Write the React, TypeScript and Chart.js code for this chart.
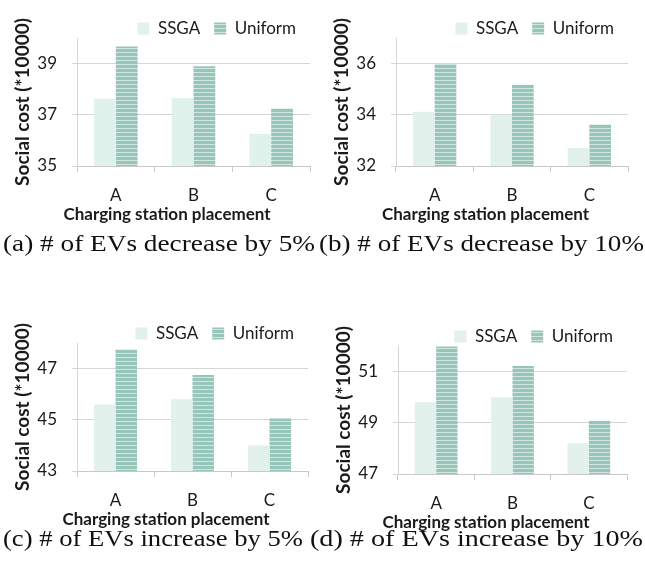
import React, { useEffect, useRef } from 'react';
import { Chart, registerables } from 'chart.js';

Chart.register(...registerables);

// ---------- data ----------
const categories = ['A', 'B', 'C'];
const seriesNames = ['SSGA', 'Uniform'];

const ssgaA = [37.63, 37.65, 36.25];
const uniformA = [39.67, 38.9, 37.25];
const ticksA = [35, 37, 39];
const maxA = 40;

const ssgaB = [34.12, 34.0, 32.7];
const uniformB = [35.98, 35.17, 33.62];
const ticksB = [32, 34, 36];
const maxB = 37;

const ssgaC = [45.6, 45.8, 44.0];
const uniformC = [47.75, 46.75, 45.05];
const ticksC = [43, 45, 47];
const maxC = 48;

const ssgaD = [49.8, 50.0, 48.2];
const uniformD = [51.98, 51.22, 49.08];
const ticksD = [47, 49, 51];
const maxD = 52;

const yTitle = 'Social cost (*10000)';
const xTitle = 'Charging station placement';

const captionA = '(a) # of EVs decrease by 5%';
const captionB = '(b) # of EVs decrease by 10%';
const captionC = '(c) # of EVs increase by 5%';
const captionD = '(d) # of EVs increase by 10%';

// ---------- styling helpers ----------
const CW = 320;
const CH = 225;
const PLOT_TOP = 38;
const PLOT_BOTTOM = 166;
const PAD_LEFT = 24;
const XTITLE_H = 20.4;
const FONT = 'Lato, "Open Sans", sans-serif';

function makeStripePattern(): CanvasPattern | string {
  const c = document.createElement('canvas');
  c.width = 4;
  c.height = 4;
  const ctx = c.getContext('2d');
  if (!ctx) return '#9cc8bd';
  ctx.fillStyle = '#97c5ba';
  ctx.fillRect(0, 0, 4, 4);
  ctx.fillStyle = '#cfe7e0';
  ctx.fillRect(0, 0, 4, 1);
  return ctx.createPattern(c, 'repeat') || '#9cc8bd';
}

function makeDotPattern(): CanvasPattern | string {
  const c = document.createElement('canvas');
  c.width = 4;
  c.height = 4;
  const ctx = c.getContext('2d');
  if (!ctx) return '#e2f2ec';
  ctx.fillStyle = '#e3f2ec';
  ctx.fillRect(0, 0, 4, 4);
  ctx.fillStyle = '#d5eae1';
  ctx.fillRect(0, 0, 1, 1);
  ctx.fillRect(2, 2, 1, 1);
  return ctx.createPattern(c, 'repeat') || '#e2f2ec';
}

const legendHeightPlugin = {
  id: 'legendHeight',
  beforeUpdate(chart: any) {
    const lg = chart.legend;
    if (lg && !lg.__wrapped) {
      const orig = lg.fit;
      lg.fit = function () {
        orig.call(this);
        this.height = PLOT_TOP - 6;
      };
      lg.__wrapped = true;
    }
  },
};

type PanelProps = {
  left: number;
  top: number;
  plotLeft: number;
  plotRight: number;
  ssga: number[];
  uniform: number[];
  ticks: number[];
  max: number;
};

function Panel(props: PanelProps) {
  const ref = useRef<HTMLCanvasElement | null>(null);
  useEffect(() => {
    if (!ref.current) return;
    const tickFont = { family: FONT, size: 17 };
    const chart = new Chart(ref.current, {
      type: 'bar',
      data: {
        labels: categories,
        datasets: [
          {
            label: seriesNames[0],
            data: props.ssga,
            backgroundColor: makeDotPattern() as any,
            borderWidth: 0,
            categoryPercentage: 0.56,
            barPercentage: 1,
          },
          {
            label: seriesNames[1],
            data: props.uniform,
            backgroundColor: makeStripePattern() as any,
            borderWidth: 0,
            categoryPercentage: 0.56,
            barPercentage: 1,
          },
        ],
      },
      plugins: [legendHeightPlugin],
      options: {
        animation: false,
        responsive: false,
        maintainAspectRatio: false,
        layout: { padding: { left: PAD_LEFT, right: CW - props.plotRight, top: 6, bottom: 0 } },
        plugins: {
          legend: {
            position: 'top',
            align: 'end',
            labels: {
              boxWidth: 12,
              boxHeight: 12,
              padding: 14,
              color: '#1a1a1a',
              font: { family: FONT, size: 17 },
            },
          },
          title: {
            display: true,
            position: 'bottom',
            text: xTitle,
            color: '#1a1a1a',
            font: { family: FONT, size: 17, weight: 'bold' },
            padding: { top: 0, bottom: 0 },
          },
          tooltip: { enabled: false },
        },
        scales: {
          x: {
            grid: { drawOnChartArea: false, drawTicks: true, tickLength: 6, color: '#c8c8c8', offset: true },
            border: { color: '#c8c8c8' },
            ticks: { padding: 13, color: '#1a1a1a', font: tickFont },
            afterFit: (s: any) => {
              s.height = CH - PLOT_BOTTOM - XTITLE_H;
            },
          },
          y: {
            min: props.ticks[0],
            max: props.max,
            afterBuildTicks: (s: any) => {
              s.ticks = props.ticks.map((v) => ({ value: v }));
            },
            grid: { color: '#d6d6d6', tickLength: 5 },
            border: { color: '#d6d6d6' },
            ticks: { padding: 15, color: '#1a1a1a', font: tickFont },
            title: {
              display: true,
              text: yTitle,
              color: '#1a1a1a',
              font: { family: FONT, size: 19, weight: 'bold' },
              padding: { top: 23 - PAD_LEFT - 11.4, bottom: 0 },
            },
            afterFit: (s: any) => {
              s.width = props.plotLeft - PAD_LEFT;
            },
          },
        },
      } as any,
    });
    return () => chart.destroy();
  }, []);
  return (
    <canvas
      ref={ref}
      width={CW}
      height={CH}
      style={{ position: 'absolute', left: props.left, top: props.top, width: CW, height: CH }}
    />
  );
}

export default function App() {
  useEffect(() => {
    document.body.style.margin = '0';
  }, []);
  const capStyle = { fontFamily: '"Liberation Serif", "DejaVu Serif", serif', fontSize: 24, fill: '#111' };
  return (
    <div style={{ position: 'fixed', left: 0, top: 0, width: 645, height: 569, background: '#fff', overflow: 'hidden' }}>
      <Panel left={0} top={0} plotLeft={77} plotRight={310} ssga={ssgaA} uniform={uniformA} ticks={ticksA} max={maxA} />
      <Panel left={319} top={0} plotLeft={77} plotRight={309} ssga={ssgaB} uniform={uniformB} ticks={ticksB} max={maxB} />
      <Panel left={0} top={305} plotLeft={77} plotRight={308} ssga={ssgaC} uniform={uniformC} ticks={ticksC} max={maxC} />
      <Panel left={321} top={308} plotLeft={77} plotRight={306} ssga={ssgaD} uniform={uniformD} ticks={ticksD} max={maxD} />
      <svg width={645} height={569} style={{ position: 'absolute', left: 0, top: 0, pointerEvents: 'none' }}>
        <text x={3} y={251} textLength={312} lengthAdjust="spacingAndGlyphs" style={capStyle}>{captionA}</text>
        <text x={319} y={251} textLength={325} lengthAdjust="spacingAndGlyphs" style={capStyle}>{captionB}</text>
        <text x={3} y={546} textLength={300} lengthAdjust="spacingAndGlyphs" style={capStyle}>{captionC}</text>
        <text x={310} y={546} textLength={333} lengthAdjust="spacingAndGlyphs" style={capStyle}>{captionD}</text>
      </svg>
    </div>
  );
}
